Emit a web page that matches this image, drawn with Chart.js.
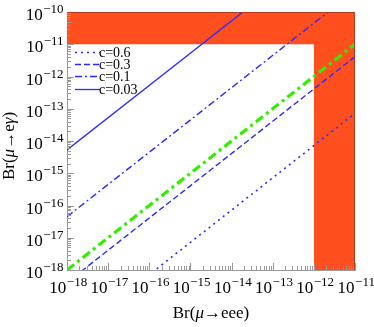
<!DOCTYPE html>
<html>
<head>
<meta charset="utf-8">
<script src="https://cdn.jsdelivr.net/npm/chart.js@4/dist/chart.umd.min.js"></script>
<style>
  html, body { margin: 0; padding: 0; background: #fff; }
  #wrap { width: 374px; height: 327px; }
</style>
</head>
<body>
<div id="wrap"><canvas id="c"></canvas></div>
<script>
// --- data (log-log) ---
const xEnds = [1e-18, 1e-11];
const yC06 = [7.2e-21, 7.2e-14];   // dotted
const yC03 = [4.1e-19, 4.1e-12];   // dashed
const yC01 = [4.5e-17, 4.5e-10];   // dash-dot
const yC003 = [5.3e-15, 5.3e-8];   // solid
const yGreen = [1e-18, 1e-11];     // thick green dash-dot
const legendLabels = ['c=0.6', 'c=0.3', 'c=0.1', 'c=0.03'];
// excluded regions
const megBound = [1e-11, 1e-10];   // Br(mu->e gamma) band
const eeeBound = [1e-12, 1e-11];   // Br(mu->eee) band
const xRange = [1e-18, 1e-11];
const yRange = [1e-18, 1e-10];

const BLUE = '#2b2bff';
const ORANGE = '#ff4f1f';
const SERIF = '"Liberation Serif", "Times New Roman", serif';

function pts(xs, ys) { return xs.map((x, i) => ({ x: x, y: ys[i] })); }
function decade(v) {
  const l = Math.log10(v);
  return Math.abs(l - Math.round(l)) < 1e-6 ? Math.round(l) : null;
}

const lineSets = [
  { data: pts(xEnds, yC06), borderDash: [2, 4], borderWidth: 1.6, borderColor: BLUE },
  { data: pts(xEnds, yC03), borderDash: [6, 3], borderWidth: 1.4, borderColor: BLUE },
  { data: pts(xEnds, yC01), borderDash: [7, 3, 2, 3], borderWidth: 1.4, borderColor: BLUE },
  { data: pts(xEnds, yC003), borderDash: [], borderWidth: 1.3, borderColor: BLUE },
];

// draws "10" with a raised exponent; align: 'center' or 'right'
function powText(ctx, n, x, y, align) {
  const base = '10', exp = '\u2212' + Math.abs(n);
  ctx.font = '17px ' + SERIF;
  const w1 = ctx.measureText(base).width;
  ctx.font = '13px ' + SERIF;
  const w2 = ctx.measureText(exp).width;
  const x0 = align === 'right' ? x - w1 - w2 : x - (w1 + w2) / 2;
  ctx.font = '17px ' + SERIF;
  ctx.fillText(base, x0, y);
  ctx.font = '13px ' + SERIF;
  ctx.fillText(exp, x0 + w1 + 0.5, y - 7);
}

function richText(ctx, parts, x, y) {
  let w = 0;
  parts.forEach(p => { ctx.font = (p[1] ? 'italic ' : '') + '17px ' + SERIF; w += ctx.measureText(p[0]).width; });
  let cx = x - w / 2;
  parts.forEach(p => {
    ctx.font = (p[1] ? 'italic ' : '') + '17px ' + SERIF;
    ctx.fillText(p[0], cx, y);
    cx += ctx.measureText(p[0]).width;
  });
}

// inward minor ticks, frame, labels and legend
const decor = {
  id: 'decor',
  afterDatasetsDraw(chart) {
    const { ctx, chartArea: a, scales } = chart;
    ctx.save();
    ctx.strokeStyle = '#999';
    ctx.lineWidth = 1;
    for (let n = -18; n <= -11; n++) {
      for (let m = 1; m <= 9; m++) {
        const v = m * Math.pow(10, n);
        if (v < xRange[0] * 0.999 || v > xRange[1] * 1.001) continue;
        const px = Math.round(scales.x.getPixelForValue(v)) + 0.5;
        ctx.beginPath();
        ctx.moveTo(px, a.bottom);
        ctx.lineTo(px, a.bottom - (m === 1 ? 7 : 4));
        ctx.stroke();
      }
    }
    for (let n = -18; n <= -10; n++) {
      for (let m = 1; m <= 9; m++) {
        const v = m * Math.pow(10, n);
        if (v < yRange[0] * 0.999 || v > yRange[1] * 1.001) continue;
        const py = Math.round(scales.y.getPixelForValue(v)) + 0.5;
        ctx.beginPath();
        ctx.moveTo(a.left, py);
        ctx.lineTo(a.left + (m === 1 ? 7 : 4), py);
        ctx.stroke();
      }
    }
    // top / right frame over the orange
    ctx.strokeStyle = '#b3391c';
    ctx.beginPath();
    ctx.moveTo(a.left, a.top + 0.5);
    ctx.lineTo(a.right - 0.5, a.top + 0.5);
    ctx.lineTo(a.right - 0.5, a.bottom);
    ctx.stroke();

    // tick labels
    ctx.fillStyle = '#000';
    ctx.textBaseline = 'alphabetic';
    scales.x.ticks.forEach(t => {
      const n = decade(t.value);
      if (n === null) return;
      powText(ctx, n, scales.x.getPixelForValue(t.value) + 1, a.bottom + 23, 'center');
    });
    scales.y.ticks.forEach(t => {
      const n = decade(t.value);
      if (n === null) return;
      powText(ctx, n, a.left - 4, scales.y.getPixelForValue(t.value) + 8, 'right');
    });

    // axis titles
    richText(ctx, [['Br(', false], ['\u03bc', true], ['\u2192eee)', false]], (a.left + a.right) / 2 + 0, 318);
    ctx.save();
    ctx.translate(14, (a.top + a.bottom) / 2 + 5);
    ctx.rotate(-Math.PI / 2);
    richText(ctx, [['Br(', false], ['\u03bc', true], ['\u2192e', false], ['\u03b3', true], [')', false]], 0, 0);
    ctx.restore();

    // legend
    const ys = [52, 64, 76, 89];
    ctx.font = '14px ' + SERIF;
    ctx.textBaseline = 'middle';
    legendLabels.forEach((lab, i) => {
      const ds = lineSets[i];
      ctx.strokeStyle = BLUE;
      ctx.lineWidth = ds.borderWidth;
      ctx.setLineDash(ds.borderDash);
      ctx.beginPath();
      ctx.moveTo(75, ys[i] + 0.5);
      ctx.lineTo(100, ys[i] + 0.5);
      ctx.stroke();
      ctx.setLineDash([]);
      ctx.fillText(lab, 99, ys[i] + 1);
    });
    ctx.restore();
  }
};

new Chart(document.getElementById('c'), {
  type: 'line',
  data: {
    datasets: [
      ...lineSets.map(d => Object.assign({ pointRadius: 0, fill: false, order: 1 }, d)),
      { data: pts(xEnds, yGreen), borderColor: '#33ee00', borderWidth: 3.2, borderDash: [9, 4, 3, 4],
        pointRadius: 0, fill: false, order: 0 },
      // excluded: Br(mu->e gamma) > 1e-11
      { data: pts(xRange, [megBound[0], megBound[0]]), borderWidth: 0, pointRadius: 0,
        backgroundColor: ORANGE, fill: 'end', order: 5 },
      // excluded: Br(mu->eee) > 1e-12
      { data: pts(eeeBound, [yRange[1], yRange[1]]), borderWidth: 0, pointRadius: 0,
        backgroundColor: ORANGE, fill: 'start', order: 5 },
    ]
  },
  options: {
    responsive: true,
    maintainAspectRatio: false,
    animation: false,
    layout: { padding: { top: 12, right: 19, left: 0, bottom: 0 } },
    plugins: { legend: { display: false }, tooltip: { enabled: false } },
    scales: {
      x: {
        type: 'logarithmic',
        min: xRange[0], max: xRange[1],
        grid: { display: true, drawOnChartArea: false, drawTicks: false },
        border: { color: '#999', width: 1 },
        ticks: { autoSkip: false, maxRotation: 0, callback: () => '' },
        afterFit: s => { s.height = 57; }
      },
      y: {
        type: 'logarithmic',
        min: yRange[0], max: yRange[1],
        grid: { display: true, drawOnChartArea: false, drawTicks: false },
        border: { color: '#999', width: 1 },
        ticks: { autoSkip: false, callback: () => '' },
        afterFit: s => { s.width = 67; }
      }
    }
  },
  plugins: [decor]
});
</script>
</body>
</html>
